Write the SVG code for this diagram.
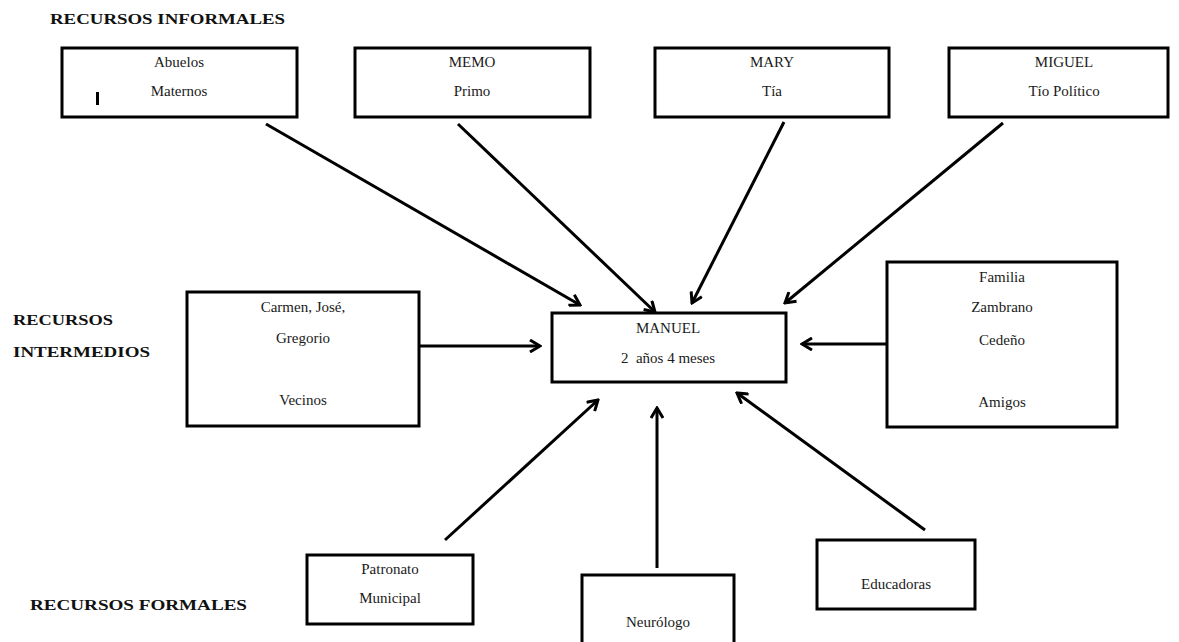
<svg xmlns="http://www.w3.org/2000/svg" width="1179" height="642" viewBox="0 0 1179 642">
<defs>
<style>
.box{fill:#fff;stroke:#000;stroke-width:3}
.t{font-family:"Liberation Serif","Times New Roman",serif;font-size:15px;fill:#1a1a1a;text-anchor:middle}
.h{font-family:"Liberation Serif","Times New Roman",serif;font-size:15px;font-weight:bold;fill:#111}
.c{stroke:#000;stroke-width:3;fill:none;marker-end:url(#ah)}
</style>
<marker id="ah" viewBox="0 0 14 14" refX="12" refY="7" markerWidth="14" markerHeight="14" markerUnits="userSpaceOnUse" orient="auto">
<path d="M2,1 L12,7 L2,13" fill="none" stroke="#000" stroke-width="3" stroke-linejoin="miter"/>
</marker>
</defs>
<rect width="1179" height="642" fill="#fff"/>
<g id="labels">
<text class="h" x="50" y="24" textLength="235" lengthAdjust="spacingAndGlyphs">RECURSOS INFORMALES</text>
<text class="h" x="13" y="325" textLength="100" lengthAdjust="spacingAndGlyphs">RECURSOS</text>
<text class="h" x="13" y="357" textLength="137" lengthAdjust="spacingAndGlyphs">INTERMEDIOS</text>
<text class="h" x="30" y="610" textLength="217" lengthAdjust="spacingAndGlyphs">RECURSOS FORMALES</text>
</g>
<g id="connectors">
<line class="c" x1="266" y1="124" x2="580" y2="305"/>
<line class="c" x1="458" y1="124" x2="655" y2="312"/>
<line class="c" x1="784" y1="122" x2="692" y2="303"/>
<line class="c" x1="1003" y1="123" x2="785" y2="303"/>
<line class="c" x1="420" y1="346" x2="540" y2="346"/>
<line class="c" x1="887" y1="344" x2="802" y2="344"/>
<line class="c" x1="445" y1="540" x2="598" y2="400"/>
<line class="c" x1="657" y1="568" x2="657" y2="408"/>
<line class="c" x1="925" y1="530" x2="737" y2="393"/>
</g>
<g id="abuelos">
<rect class="box" x="62" y="48" width="235" height="69"/>
<text class="t" x="179" y="67">Abuelos</text>
<text class="t" x="179" y="96">Maternos</text>
<rect x="96" y="92" width="3" height="13" fill="#000"/>
</g>
<g id="memo">
<rect class="box" x="355" y="48" width="235" height="69"/>
<text class="t" x="472" y="67">MEMO</text>
<text class="t" x="472" y="96">Primo</text>
</g>
<g id="mary">
<rect class="box" x="655" y="48" width="234" height="69"/>
<text class="t" x="772" y="67">MARY</text>
<text class="t" x="772" y="96">Tía</text>
</g>
<g id="miguel">
<rect class="box" x="949" y="48" width="219" height="69"/>
<text class="t" x="1064" y="67">MIGUEL</text>
<text class="t" x="1064" y="96">Tío Político</text>
</g>
<g id="carmen">
<rect class="box" x="187" y="292" width="232" height="134"/>
<text class="t" x="303" y="312">Carmen, José,</text>
<text class="t" x="303" y="343">Gregorio</text>
<text class="t" x="303" y="405">Vecinos</text>
</g>
<g id="manuel">
<rect class="box" x="552" y="313" width="234" height="69"/>
<text class="t" x="668" y="333">MANUEL</text>
<text class="t" x="668" y="363" xml:space="preserve">2  años 4 meses</text>
</g>
<g id="familia">
<rect class="box" x="887" y="262" width="230" height="165"/>
<text class="t" x="1002" y="282">Familia</text>
<text class="t" x="1002" y="312">Zambrano</text>
<text class="t" x="1002" y="345">Cedeño</text>
<text class="t" x="1002" y="407">Amigos</text>
</g>
<g id="patronato">
<rect class="box" x="307" y="555" width="166" height="69"/>
<text class="t" x="390" y="574">Patronato</text>
<text class="t" x="390" y="603">Municipal</text>
</g>
<g id="neurologo">
<rect class="box" x="582" y="575" width="152" height="80"/>
<text class="t" x="658" y="627">Neurólogo</text>
</g>
<g id="educadoras">
<rect class="box" x="817" y="540" width="158" height="69"/>
<text class="t" x="896" y="589">Educadoras</text>
</g>
</svg>
